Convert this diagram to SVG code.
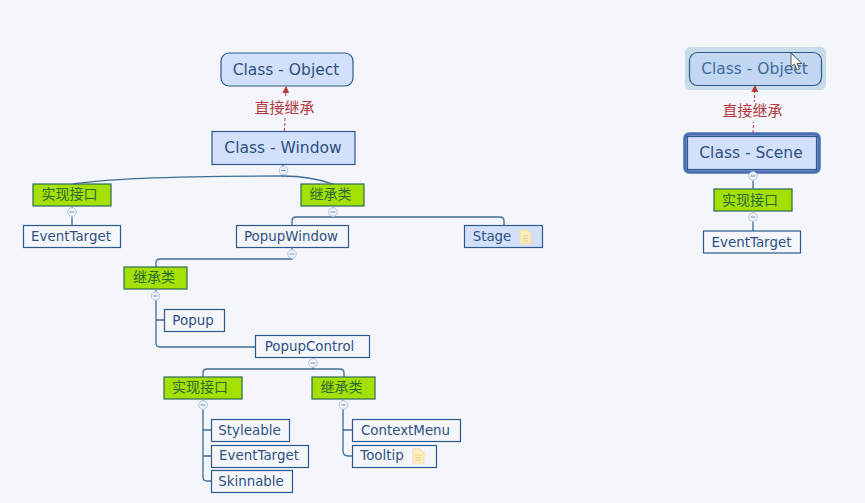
<svg xmlns="http://www.w3.org/2000/svg" width="865" height="503" viewBox="0 0 865 503">
<style>
text{font-family:"DejaVu Sans","Noto Sans CJK SC",sans-serif;fill:#2f5080;text-anchor:middle}
.big{font-size:15.500px}.sm{font-size:13.400px}.cjk{font-family:"Noto Sans CJK SC",sans-serif;font-size:14px;fill:#2d6a3a}
.lab{font-family:"Noto Sans CJK SC",sans-serif;font-size:15px;fill:#b5373f}
.blue{fill:#d2e0fb;stroke:#2c5a8c;stroke-width:1.2}
.green{fill:#a4e000;stroke:#2c6a5c;stroke-width:1.2}
.white{fill:#f4f6fb;stroke:#2c5a8c;stroke-width:1.2}
.c{fill:none;stroke:#3f6c96;stroke-width:1.3}
.d{fill:none;stroke:#b5373f;stroke-width:1;stroke-dasharray:3 2}
.m{fill:#eef2fb;stroke:#b4c8e4;stroke-width:1}
.mm{stroke:#7f94ad;stroke-width:1}
.note{fill:#fdeec0;stroke:#f3dca0;stroke-width:1}
.nl{stroke:#ecd08a;stroke-width:1}
.bg{fill:#f4f6fb}
</style>
<defs>
<g id="minus"><circle class="m" r="4.300"/><line class="mm" x1="-2.300" x2="2.300" y1="0" y2="0"/></g>
<g id="doc"><path class="note" d="M0 0H7L11 4V14H0Z"/><path class="nl" d="M2.500 6H8.500M2.500 8.500H8.500M2.500 11H8.500" fill="none"/></g>
<marker id="arr" markerUnits="userSpaceOnUse" markerWidth="8" markerHeight="8" refX="6" refY="3.500" orient="auto"><path d="M0 0L7 3.500L0 7Z" fill="#b5373f"/></marker>
</defs>
<rect width="865" height="503" fill="#f4f6fb"/>
<g id="n-object"><rect class="blue" x="221" y="53" width="132" height="33" rx="8"/><text class="big" x="286" y="75">Class - Object</text></g>
<g id="n-window"><rect class="blue" x="212" y="131.500" width="143" height="33"/><text class="big" x="283" y="153">Class - Window</text></g>
<g id="n-impl1"><rect class="green" x="33" y="184" width="78" height="22"/><text class="cjk" x="69.500" y="199">实现接口</text></g>
<g id="n-inh1"><rect class="green" x="301" y="184" width="63" height="22"/><text class="cjk" x="330.500" y="199">继承类</text></g>
<g id="n-et1"><rect class="white" x="23.500" y="225.500" width="97" height="22"/><text class="sm" x="71" y="241">EventTarget</text></g>
<g id="n-popupwindow"><rect class="white" x="236.500" y="225.500" width="112" height="22"/><text class="sm" x="291" y="241">PopupWindow</text></g>
<g id="n-stage"><rect class="blue" x="464.500" y="225.500" width="78" height="22"/><text class="sm" x="492" y="241">Stage</text><use href="#doc" x="520" y="230"/></g>
<g id="n-inh2"><rect class="green" x="124" y="267" width="63" height="22"/><text class="cjk" x="154" y="282">继承类</text></g>
<g id="n-popup"><rect class="white" x="164.500" y="309.500" width="60" height="22"/><text class="sm" x="193" y="325">Popup</text></g>
<g id="n-popupcontrol"><rect class="white" x="255.500" y="335.500" width="114" height="22"/><text class="sm" x="309.500" y="351">PopupControl</text></g>
<g id="n-impl2"><rect class="green" x="164" y="377" width="78" height="22"/><text class="cjk" x="200" y="392">实现接口</text></g>
<g id="n-inh3"><rect class="green" x="312" y="377" width="63" height="22"/><text class="cjk" x="341.500" y="392">继承类</text></g>
<g id="n-styleable"><rect class="white" x="211.500" y="419.500" width="78" height="22"/><text class="sm" x="249.500" y="435">Styleable</text></g>
<g id="n-et2"><rect class="white" x="211.500" y="445.500" width="97" height="22"/><text class="sm" x="259" y="460">EventTarget</text></g>
<g id="n-skinnable"><rect class="white" x="211.500" y="470.500" width="81" height="22"/><text class="sm" x="251" y="486">Skinnable</text></g>
<g id="n-contextmenu"><rect class="white" x="352.500" y="419.500" width="108" height="22"/><text class="sm" x="405.500" y="435">ContextMenu</text></g>
<g id="n-tooltip"><rect class="white" x="352.500" y="445.500" width="84" height="22"/><text class="sm" x="382" y="460">Tooltip</text><use href="#doc" x="413" y="449"/></g>
<g id="n-object2"><rect x="685" y="47" width="141" height="43" rx="5" fill="#c9dcea"/><rect x="689.500" y="52.500" width="132" height="33" rx="8" fill="#c2d7f2" stroke="#2c5a8c" stroke-width="1.2"/><text class="big" x="754.500" y="74" style="fill:#3f6b9c">Class - Object</text></g>
<g id="n-scene"><rect x="685" y="134" width="134" height="38" rx="4" fill="none" stroke="#4a6fb5" stroke-width="3.500"/><rect class="blue" x="687.500" y="136.500" width="129" height="33"/><text class="big" x="751" y="158">Class - Scene</text></g>
<g id="n-impl3"><rect class="green" x="714" y="189" width="78" height="22"/><text class="cjk" x="750" y="205">实现接口</text></g>
<g id="n-et3"><rect class="white" x="703.500" y="231" width="97" height="22"/><text class="sm" x="751.500" y="247">EventTarget</text></g>
<g id="connectors">
<path class="d" d="M284.500 131L286 87" marker-end="url(#arr)"/>
<path class="d" d="M753 133L755 86" marker-end="url(#arr)"/>
<path class="c" d="M283 165V177"/>
<path class="c" d="M73 184C110 178 200 176 283 176C300 176 318 179 333 184"/>
<path class="c" d="M72 207V225"/>
<path class="c" d="M333 207V217M292 225V221Q292 217 296 217H500Q504 217 504 221V225"/>
<path class="c" d="M292 248V259H160Q156 259 156 263V267"/>
<path class="c" d="M156 290V343Q156 347 160 347H255M156 320H164"/>
<path class="c" d="M313 358V369M203 377V373Q203 369 207 369H340Q344 369 344 373V377"/>
<path class="c" d="M203 400V477Q203 481 207 481H211M203 430H211M203 456H211"/>
<path class="c" d="M343 400V451Q343 456 348 456H352M343 430H352"/>
<path class="c" d="M753 172V189M753 212V231"/>
</g>
<rect class="bg" x="254" y="98" width="61" height="20"/>
<text class="lab" x="284.500" y="113">直接继承</text>
<rect class="bg" x="722" y="102" width="62" height="20"/>
<text class="lab" x="752.500" y="116">直接继承</text>
<g id="toggles">
<use href="#minus" x="283.500" y="170.500"/><use href="#minus" x="72" y="212"/><use href="#minus" x="333" y="212"/><use href="#minus" x="292" y="254"/><use href="#minus" x="155.500" y="296"/><use href="#minus" x="313" y="363"/><use href="#minus" x="203" y="405"/><use href="#minus" x="343.500" y="405"/><use href="#minus" x="753" y="176"/><use href="#minus" x="753" y="217"/>
</g>
<path d="M791 53V67L794.500 64L797 70L799.500 69L797 63.500H802Z" fill="#fff" stroke="#555" stroke-width="1"/>
</svg>
